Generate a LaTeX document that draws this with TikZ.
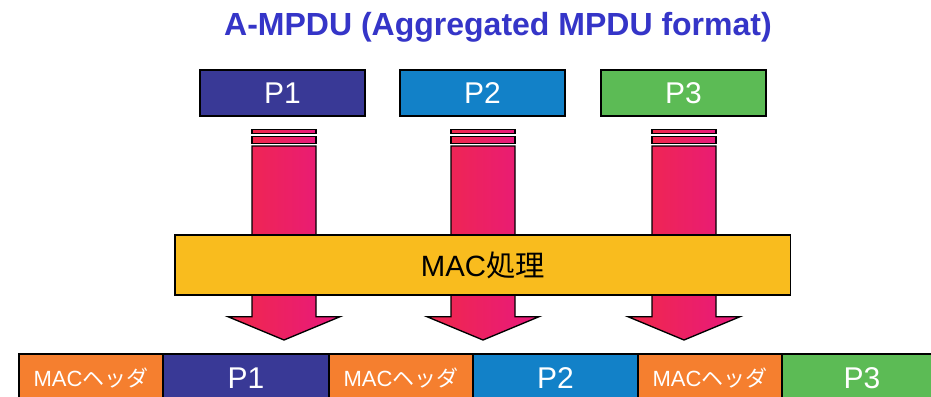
\documentclass[tikz,border=0pt]{standalone}
\usepackage{fontspec}
\setmainfont{Liberation Sans}
\newfontfamily\cjk{Noto Sans CJK JP}
\usetikzlibrary{shadings}

\definecolor{titleblue}{HTML}{3535C8}
\definecolor{pnavy}{HTML}{393996}
\definecolor{pblue}{HTML}{1281C8}
\definecolor{pgreen}{HTML}{5CBB55}
\definecolor{hdrorange}{HTML}{F57F2F}
\definecolor{macyellow}{HTML}{F9BC1E}
\definecolor{arrowred}{HTML}{F0284A}
\definecolor{arrowpink}{HTML}{E8197E}

\tikzset{
  payload/.style={draw=black, line width=1.1pt, inner sep=0pt, outer sep=0pt,
    anchor=north west, minimum width=123.75pt, minimum height=34.5pt, text=white,
    font=\fontsize{22.5}{26}\selectfont},
  segment/.style={draw=black, line width=1.1pt, inner sep=0pt, outer sep=0pt,
    anchor=north west, minimum height=36pt, text=white},
  hdrseg/.style={segment, fill=hdrorange, minimum width=108pt,
    font=\fontsize{16.5}{20}\selectfont},
  dataseg/.style={segment, font=\fontsize{22.5}{26}\selectfont},
  blockarrow/.style={draw=black, line width=1pt, line join=miter,
    left color=arrowred, right color=arrowpink, shading angle=90},
}

\begin{document}
\begin{tikzpicture}[x=0.75pt, y=-0.75pt]
\clip (0,0) rectangle (931,396);
\fill[white] (0,0) rectangle (931,396);

% title
\node[font=\fontsize{24}{28}\selectfont\bfseries, text=titleblue] (title) at (498,27)
  {A-MPDU (Aggregated MPDU format)};

% payload packets
\node[payload, fill=pnavy] (p1) at (200,70) {P1};
\node[payload, fill=pblue] (p2) at (400,70) {P2};
\node[payload, fill=pgreen] (p3) at (601,70) {P3};

% block arrows through the MAC stage
\foreach \c in {284,483,684} {
  \path[blockarrow] (\c-32,129.3) rectangle (\c+32,133.3);
  \path[blockarrow] (\c-32,136.7) rectangle (\c+32,143.3);
  \path[blockarrow] (\c-32,146) -- (\c+32,146) -- (\c+32,316.7) -- (\c+56,316.7)
    -- (\c,340) -- (\c-56,316.7) -- (\c-32,316.7) -- cycle;
}

% MAC processing stage
\node[draw=black, line width=1.1pt, fill=macyellow, inner sep=0pt, outer sep=0pt,
  anchor=north west, minimum width=461.78pt, minimum height=45pt,
  font=\fontsize{22}{26}\selectfont] (mac) at (175,235) {MAC{\cjk 処理}};

% aggregated frame
\node[hdrseg] (h1) at (19,354) {MAC{\cjk ヘッダ}};
\node[dataseg, fill=pnavy, minimum width=124.5pt] (d1) at (h1.north east) {P1};
\node[hdrseg] (h2) at (d1.north east) {MAC{\cjk ヘッダ}};
\node[dataseg, fill=pblue, minimum width=123.75pt] (d2) at (h2.north east) {P2};
\node[hdrseg] (h3) at (d2.north east) {MAC{\cjk ヘッダ}};
\node[dataseg, fill=pgreen, minimum width=120pt] (d3) at (h3.north east) {P3};
\end{tikzpicture}
\end{document}
